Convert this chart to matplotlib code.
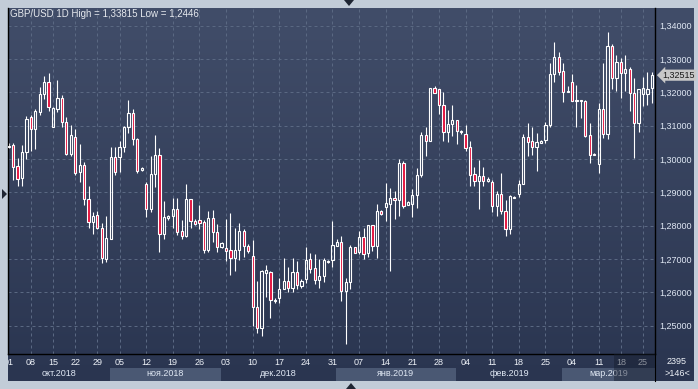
import matplotlib
matplotlib.use('Agg')
import matplotlib.pyplot as plt
import matplotlib.transforms as mtransforms
import numpy as np
from matplotlib.patches import Rectangle, Polygon
from matplotlib.colors import LinearSegmentedColormap

plt.rcParams['font.family'] = ['Liberation Sans', 'DejaVu Sans']

# GBP/USD daily candles, 01.10.2018 .. 27.03.2019
o = [1.3040, 1.3042, 1.2979, 1.2942, 1.3020, 1.3126, 1.3089, 1.3142, 1.3194, 1.3230,
     1.3097, 1.3149, 1.3182, 1.3110, 1.3014, 1.3065, 1.2960, 1.2981, 1.2879, 1.2812,
     1.2832, 1.2794, 1.2699, 1.2760, 1.3005, 1.3005, 1.3037, 1.3095, 1.3137, 1.3059,
     1.2967, 1.2924, 1.2849, 1.2954, 1.3012, 1.2775, 1.2824, 1.2830, 1.2849, 1.2784,
     1.2769, 1.2879, 1.2814, 1.2816, 1.2812, 1.2726, 1.2822, 1.2780, 1.2737, 1.2732,
     1.2727, 1.2704, 1.2726, 1.2784, 1.2738, 1.2710, 1.2555, 1.2492, 1.2659, 1.2660,
     1.2575, 1.2582, 1.2609, 1.2634, 1.2612, 1.2660, 1.2620, 1.2639, 1.2700, 1.2672,
     1.2636, 1.2648, 1.2692, 1.2696, 1.2740, 1.2750, 1.2605, 1.2630, 1.2735, 1.2722,
     1.2765, 1.2717, 1.2801, 1.2740, 1.2844, 1.2857, 1.2866, 1.2882, 1.2878, 1.2988,
     1.2861, 1.2865, 1.2891, 1.2951, 1.3071, 1.3055, 1.3212, 1.3209, 1.3161, 1.3080,
     1.3104, 1.3116, 1.3080, 1.3075, 1.3035, 1.2954, 1.2934, 1.2948, 1.2934, 1.2930,
     1.2860, 1.2894, 1.2845, 1.2789, 1.2884, 1.2896, 1.2925, 1.3065, 1.3053, 1.3037,
     1.3049, 1.3058, 1.3102, 1.3254, 1.3305, 1.3263, 1.3202, 1.3232, 1.3174, 1.3174,
     1.3175, 1.3071, 1.3012, 1.2984, 1.3149, 1.3074, 1.3340, 1.3242, 1.3292, 1.3257,
     1.3269, 1.3197, 1.3107, 1.3195, 1.3194, 1.3212]
h = [1.3047, 1.3047, 1.3002, 1.3041, 1.3129, 1.3133, 1.3150, 1.3217, 1.3250, 1.3258,
     1.3157, 1.3236, 1.3192, 1.3127, 1.3102, 1.3089, 1.3045, 1.2992, 1.2919, 1.2841,
     1.2845, 1.2809, 1.2830, 1.3035, 1.3037, 1.3055, 1.3100, 1.3177, 1.3150, 1.3062,
     1.2977, 1.2932, 1.3010, 1.3072, 1.3032, 1.2874, 1.2832, 1.2882, 1.2882, 1.2817,
     1.2925, 1.2880, 1.2820, 1.2862, 1.2817, 1.2844, 1.2847, 1.2805, 1.2752, 1.2820,
     1.2839, 1.2792, 1.2808, 1.2789, 1.2745, 1.2757, 1.2634, 1.2666, 1.2682, 1.2664,
     1.2583, 1.2642, 1.2703, 1.2677, 1.2702, 1.2694, 1.2639, 1.2735, 1.2717, 1.2714,
     1.2699, 1.2702, 1.2696, 1.2814, 1.2759, 1.2769, 1.2642, 1.2742, 1.2736, 1.2784,
     1.2792, 1.2802, 1.2802, 1.2864, 1.2848, 1.2928, 1.2913, 1.2905, 1.3000, 1.2995,
     1.2873, 1.2910, 1.2973, 1.3082, 1.3097, 1.3212, 1.3219, 1.3210, 1.3200, 1.3147,
     1.3162, 1.3117, 1.3087, 1.3102, 1.3054, 1.2977, 1.2997, 1.2975, 1.2945, 1.2937,
     1.2904, 1.2957, 1.2877, 1.2892, 1.2888, 1.2937, 1.3075, 1.3107, 1.3095, 1.3077,
     1.3057, 1.3112, 1.3287, 1.3352, 1.3320, 1.3287, 1.3219, 1.3255, 1.3222, 1.3178,
     1.3178, 1.3107, 1.3017, 1.3169, 1.3287, 1.33815, 1.3345, 1.3312, 1.3302, 1.3312,
     1.3277, 1.3242, 1.3210, 1.3245, 1.3260, 1.3260]
l = [1.3032, 1.2937, 1.2920, 1.2920, 1.3000, 1.3025, 1.3031, 1.3132, 1.3180, 1.3144,
     1.3095, 1.3142, 1.3097, 1.3012, 1.3009, 1.2952, 1.2932, 1.2862, 1.2792, 1.2774,
     1.2789, 1.2689, 1.2692, 1.2759, 1.2952, 1.2962, 1.3022, 1.3077, 1.3042, 1.2957,
     1.2964, 1.2825, 1.2840, 1.2917, 1.2720, 1.2759, 1.2817, 1.2794, 1.2772, 1.2760,
     1.2766, 1.2794, 1.2802, 1.2790, 1.2719, 1.2722, 1.2752, 1.2722, 1.2732, 1.2694,
     1.2652, 1.2665, 1.2697, 1.2707, 1.2719, 1.2499, 1.2477, 1.2470, 1.2587, 1.2524,
     1.2567, 1.2569, 1.2609, 1.2602, 1.2602, 1.2609, 1.2612, 1.2629, 1.2659, 1.2625,
     1.2612, 1.2630, 1.2689, 1.2677, 1.2740, 1.2575, 1.2446, 1.2610, 1.2719, 1.2715,
     1.2700, 1.2707, 1.2724, 1.2704, 1.2831, 1.2815, 1.2665, 1.2821, 1.2830, 1.2854,
     1.2861, 1.2827, 1.2852, 1.2947, 1.3010, 1.3055, 1.3197, 1.3136, 1.3055, 1.3052,
     1.3070, 1.3044, 1.3075, 1.3025, 1.2920, 1.2920, 1.2850, 1.2920, 1.2932, 1.2842,
     1.2830, 1.2834, 1.2770, 1.2775, 1.2882, 1.2887, 1.2925, 1.3010, 1.3012, 1.2965,
     1.3049, 1.3047, 1.3095, 1.3232, 1.3252, 1.3172, 1.3202, 1.3175, 1.3097, 1.3124,
     1.3067, 1.2989, 1.3012, 1.2959, 1.3062, 1.3059, 1.3209, 1.3204, 1.3184, 1.3205,
     1.3145, 1.3002, 1.3080, 1.3160, 1.3163, 1.3167]
c = [1.3036, 1.2975, 1.2941, 1.3021, 1.3120, 1.3089, 1.3144, 1.3194, 1.3230, 1.3155,
     1.3153, 1.3182, 1.3112, 1.3014, 1.3071, 1.2959, 1.2981, 1.2879, 1.2812, 1.2828,
     1.2792, 1.2702, 1.2762, 1.3005, 1.2962, 1.3037, 1.3095, 1.3137, 1.3059, 1.2965,
     1.2973, 1.2850, 1.2954, 1.3012, 1.2775, 1.2825, 1.2830, 1.2849, 1.2782, 1.2770,
     1.2879, 1.2813, 1.2806, 1.2809, 1.2728, 1.2822, 1.2780, 1.2737, 1.2747, 1.2723,
     1.2704, 1.2727, 1.2784, 1.2738, 1.2724, 1.2555, 1.2492, 1.2665, 1.2666, 1.2576,
     1.2578, 1.2609, 1.2634, 1.2612, 1.2660, 1.2621, 1.2634, 1.2696, 1.2671, 1.2636,
     1.2649, 1.2696, 1.2695, 1.2741, 1.2750, 1.2605, 1.2631, 1.2735, 1.2719, 1.2765,
     1.2716, 1.2801, 1.2740, 1.2844, 1.2836, 1.2867, 1.2883, 1.2876, 1.2988, 1.2859,
     1.2871, 1.2891, 1.2951, 1.3072, 1.3055, 1.3212, 1.3197, 1.3161, 1.3080, 1.3104,
     1.3116, 1.3084, 1.3083, 1.3034, 1.2951, 1.2934, 1.2948, 1.2934, 1.2940, 1.2860,
     1.2894, 1.2845, 1.2789, 1.2888, 1.2887, 1.2925, 1.3065, 1.3052, 1.3037, 1.3050,
     1.3053, 1.3102, 1.3254, 1.3305, 1.3260, 1.3202, 1.3204, 1.3175, 1.3176, 1.3176,
     1.3070, 1.3012, 1.3015, 1.3149, 1.3074, 1.3340, 1.3242, 1.3290, 1.3257, 1.3269,
     1.3197, 1.3107, 1.3209, 1.3212, 1.3209, 1.32515]

day_idx = [0, 5, 10, 15, 20, 25, 31, 37, 43, 49, 55, 61, 67, 73, 79, 85, 91, 97,
           103, 109, 115, 121, 127, 133, 138, 143]
day_lbl = ['01', '08', '15', '22', '29', '05', '12', '19', '26', '03', '10', '17', '24',
           '31', '07', '14', '21', '28', '04', '11', '18', '25', '04', '11', '18', '25']
month_first = [0, 23, 48, 74, 101, 125]
month_lbl = ['окт.2018', 'ноя.2018', 'дек.2018', 'янв.2019', 'фев.2019', 'мар.2019']
price_levels = [1.25, 1.26, 1.27, 1.28, 1.29, 1.30, 1.31, 1.32, 1.33, 1.34]
last_price = 1.32515

W, H = 698, 389
XMIN, XMAX = -0.15, 145.7


def fbox(x0, y0, x1, y1):
    return [x0 / W, 1 - y1 / H, (x1 - x0) / W, (y1 - y0) / H]


def fpt(x, y):
    return (x / W, 1 - y / H)


fig = plt.figure(figsize=(6.98, 3.89), dpi=100)
fig.patch.set_facecolor('#c2ccd8')

# gradient background for chart + scales
bg = fig.add_axes(fbox(8, 8, 694, 381))
bg.axis('off')
cmap = LinearSegmentedColormap.from_list('bg', ['#2a3550', '#414d69'])
bg.imshow(np.linspace(0, 1, 256)[:, None], aspect='auto', cmap=cmap,
          extent=[0, 1, 0, 1], origin='lower')
bg.set_xlim(0, 1)
bg.set_ylim(0, 1)

ax = fig.add_axes(fbox(8, 8, 655, 354))
ax.set_facecolor('none')
ax.set_xlim(XMIN, XMAX)
ax.set_ylim(1.2415, 1.3453)

gc = '#5a6882'
for p in price_levels:
    ax.axhline(p, color=gc, lw=0.72, ls=(0, (3, 3)), zorder=1)
for d in day_idx[1:]:
    ax.axvline(d, color=gc, lw=0.72, ls=(0, (3, 3)), zorder=1)

o_, h_, l_, c_ = map(np.array, (o, h, l, c))
x = np.arange(len(o_))
top = np.maximum(o_, c_)
bot = np.minimum(o_, c_)
ax.vlines(x, top, h_, color='white', lw=0.8, zorder=2)
ax.vlines(x, l_, bot, color='white', lw=0.8, zorder=2)
bw = 0.5
for i in range(len(x)):
    fc = '#e3103c' if c_[i] < o_[i] else 'none'
    ax.add_patch(Rectangle((x[i] - bw / 2, bot[i]), bw, top[i] - bot[i],
                           fc=fc, ec='white', lw=0.8, zorder=3))

ax.set_xticks([])
ax.yaxis.tick_right()
ax.set_yticks(price_levels)
ax.set_yticklabels(['%.5f' % p for p in price_levels])
ax.set_yticklabels([('%.5f' % p).replace('.', ',') for p in price_levels])
ax.tick_params(axis='y', length=0, pad=3, labelsize=6.5, labelcolor='#dfe7f3')
ax.spines['top'].set_visible(False)
for s in ('left', 'bottom', 'right'):
    ax.spines[s].set_color('black')
    ax.spines[s].set_linewidth(1)

# last price tag
tr = mtransforms.blended_transform_factory(ax.transAxes, ax.transData)
ax.text(1.012, last_price, ('%.5f' % last_price).replace('.', ','), transform=tr,
        va='center', ha='left', fontsize=6.5, color='#1a1a1a', zorder=5,
        bbox=dict(boxstyle='larrow,pad=0.12', fc='#c8c8c8', ec='none'))

# date strip
st = fig.add_axes(fbox(8, 354, 655, 381))
st.set_facecolor('none')
st.set_xlim(XMIN, XMAX)
st.set_ylim(0, 1)
st.set_xticks([])
st.set_yticks([])
for s in ('left', 'top', 'bottom'):
    st.spines[s].set_visible(False)
st.spines['right'].set_color('black')
bounds = [m - 0.2 for m in month_first] + [XMAX]
bounds[0] = XMIN
for k, name in enumerate(month_lbl):
    a, b = bounds[k], bounds[k + 1]
    if k % 2 == 1:
        st.add_patch(Rectangle((a, 0.01), b - a, 0.46, fc='#4a5873', ec='none', zorder=1))
    st.text((a + b) / 2, 0.27, name, ha='center', va='center', fontsize=6.5,
            color='#e0e8f4', zorder=2)
for d, t in zip(day_idx, day_lbl):
    st.text(d, 0.69, t, ha='center', va='center', fontsize=6.5, color='#eef2f8',
            zorder=2, clip_on=True)
st.add_patch(Rectangle((136.5, 0), XMAX - 136.5, 1, fc='#161d2d', alpha=0.45,
                       ec='none', zorder=3))

fig.text(*fpt(677, 362), '2395', ha='center', va='center', fontsize=6.5, color='#eef2f8')
fig.text(*fpt(677, 374), '>146<', ha='center', va='center', fontsize=6.5, color='#eef2f8')

fig.text(*fpt(10, 14), 'GBP/USD 1D High = 1,33815 Low = 1,2446', ha='left', va='center',
         fontsize=7, color='#e6e9ee')

for tri in ([(344, 0), (354, 0), (349, 6)],
            [(346, 389), (356, 389), (351, 383)],
            [(2, 189), (2, 199), (7, 194)]):
    fig.add_artist(Polygon([fpt(*p) for p in tri], closed=True, fc='#1e2533',
                           ec='none', transform=fig.transFigure))

fig.savefig('out.png', dpi=100)
